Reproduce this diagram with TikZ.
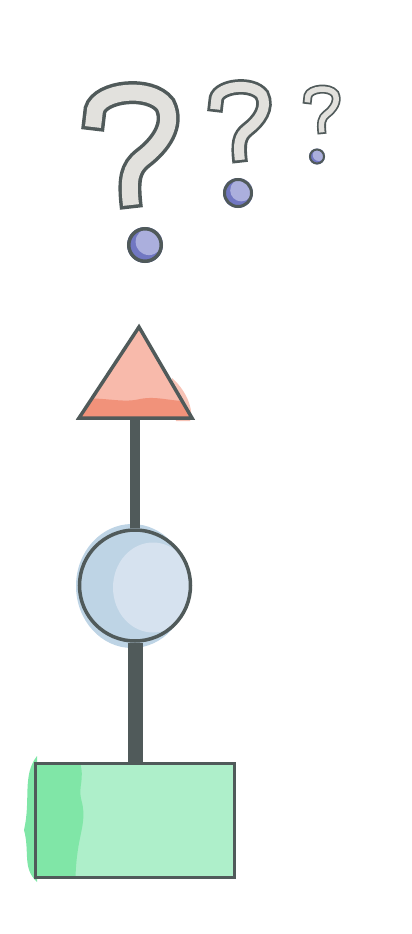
\documentclass[tikz,border=0pt]{standalone}
\usetikzlibrary{calc,positioning}
\definecolor{edge}{RGB}{80,90,90}
\definecolor{qfill}{RGB}{226,225,221}
\definecolor{dotlight}{RGB}{171,175,221}
\definecolor{dotdark}{RGB}{113,119,194}
\definecolor{triA}{RGB}{248,186,171}
\definecolor{triB}{RGB}{241,146,122}
\definecolor{ballA}{RGB}{214,226,239}
\definecolor{ballB}{RGB}{190,212,229}
\definecolor{boxA}{RGB}{174,239,202}
\definecolor{boxB}{RGB}{128,230,167}
\tikzset{
  edgeline/.style={draw=edge,line width=3.5pt},
  box/.style={rectangle,edgeline,fill=boxA,minimum width=199pt,minimum height=114pt,inner sep=0pt,
    path picture={\fill[boxB] ($(path picture bounding box.west)+(-2,-60)$) -- ++(46,0)
      .. controls +(6,20) and +(-4,-15) .. ++(2,40) .. controls +(4,15) and +(3,-15) .. ++(-2,40)
      .. controls +(-3,15) and +(0,-10) .. ++(-4,40) -- ++(-42,0) -- cycle;}},
  ball/.style={circle,edgeline,fill=ballB,minimum size=111pt,inner sep=0pt,
    path picture={\fill[ballA] ($(path picture bounding box.center)+(18,2)$) ellipse (40pt and 45pt);}},
  link/.style={draw=edge,line width=#1},
}
\begin{document}
\begin{tikzpicture}[x=1pt,y=-1pt]
  \useasboundingbox (0,0) rectangle (412,934);
  % question marks
  \foreach \ox/\oy/\s/\wo/\wi in {82/82/1/23/16, 208/80/0.65/15.5/10, 303/85/0.385/9/5.5} {
    \begin{scope}[shift={(\ox,\oy)},scale=\s]
      \draw[edge,line width=\wo,shorten <={(\wi-\wo)/2*1pt},shorten >={(\wi-\wo)/2*1pt}]
        (11,45) -- (13,28) .. controls (18,9) and (68,3) .. (83,23)
        .. controls (93,43) and (78,63) .. (61,76) .. controls (48,86) and (46,98) .. (49,123);
      \draw[qfill,line width=\wi]
        (11,45) -- (13,28) .. controls (18,9) and (68,3) .. (83,23)
        .. controls (93,43) and (78,63) .. (61,76) .. controls (48,86) and (46,98) .. (49,123);
    \end{scope}
  }
  \foreach \cx/\cy/\r/\w in {145/245/18/3.5, 238/193/15/3, 317/156.5/8/2} {
    \fill[dotdark] (\cx,\cy) circle (\r);
    \fill[dotlight] (\cx+0.22*\r,\cy-0.18*\r) circle ({0.74*\r});
    \draw[edge,line width=\w] (\cx,\cy) circle ({\r-\w/2});
  }
  % triangle
  \coordinate (tip) at (139,327);
  \coordinate (tl) at (79,418);
  \coordinate (tr) at (192,418);
  \coordinate (cap) at (135,418);
  \fill[triB!55] (172,378) .. controls (188,392) and (194,412) .. (190,421) -- (176,421) -- cycle;
  \fill[triA] (tip) -- (tl) -- (tr) -- cycle;
  \begin{scope}
    \clip (tip) -- (tl) -- (tr) -- cycle;
    \fill[triB] (70,400) .. controls (100,395) and (120,404) .. (140,399)
      .. controls (160,395) and (175,404) .. (200,400) -- (200,425) -- (70,425) -- cycle;
  \end{scope}
  \draw[edgeline,line join=miter] (tip) -- (tl) -- (tr) -- cycle;
  % ball and box
  \fill[ballB] (132,586) ellipse (56 and 62);
  \node[ball] (ball) at (135,585.5) {};
  \fill[boxB] (37,756) .. controls (22,775) and (31,800) .. (24,830)
    .. controls (30,852) and (22,868) .. (37,882) -- cycle;
  \node[box] (base) at (135,820.5) {};
  \draw[link=15pt] (base.north) -- (ball.south);
  \draw[link=10pt] (ball.north) -- (cap);
\end{tikzpicture}
\end{document}
